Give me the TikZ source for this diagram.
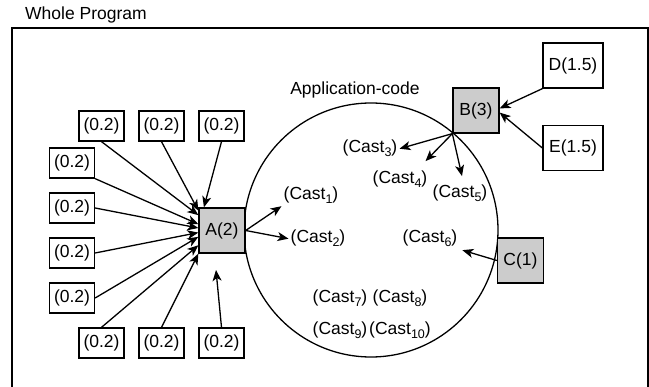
\documentclass[tikz,border=0pt]{standalone}
\usepackage{fontspec}
\setmainfont{Liberation Sans}
\usetikzlibrary{arrows.meta,calc}
\definecolor{boxgray}{HTML}{CCCCCC}
\newcommand{\castsub}[1]{\raisebox{-4pt}{\fontsize{12.5}{13}\selectfont #1}}
\begin{document}
\begin{tikzpicture}[x=1pt,y=-1pt,
  font=\fontsize{17.5}{20}\selectfont,
  every node/.style={inner sep=0pt},
  wbox/.style={draw, line width=1.3pt, minimum width=45pt, minimum height=30pt, fill=white},
  gbox/.style={draw, line width=1.3pt, fill=boxgray, minimum width=46pt, minimum height=45pt},
  lbox/.style={draw, line width=1.3pt, fill=white, minimum width=60pt, minimum height=45pt},
  cast/.style={inner sep=2pt, anchor=base},
  arr/.style={-{Stealth[length=11pt,width=9pt,inset=3pt]}, line width=1.3pt}]
\useasboundingbox (0,0) rectangle (649,387);
% frame
\draw[line width=1.3pt] (12,400) -- (12,28) -- (648,28) -- (648,400);
\node[anchor=base west] (title) at (25,20) {Whole Program};
% circle
\draw[line width=1.3pt] (371,230) circle[radius=127];
\node[anchor=base] (app) at (355,95) {Application-code};
% gray boxes
\node[gbox] (A) at (222,230.5) {A(2)};
\node[gbox] (B) at (476,110.5) {B(3)};
\node[gbox] (C) at (520.5,260.5) {C(1)};
\node[lbox] (D) at (573,65.5) {D(1.5)};
\node[lbox] (E) at (573,148) {E(1.5)};
% small boxes
\node[wbox] (t1) at (101.5,126) {(0.2)};
\node[wbox] (t2) at (161.5,126) {(0.2)};
\node[wbox] (t3) at (221.5,126) {(0.2)};
\node[wbox] (l1) at (72,163) {(0.2)};
\node[wbox] (l2) at (72,208) {(0.2)};
\node[wbox] (l3) at (72,253) {(0.2)};
\node[wbox] (l4) at (72,298) {(0.2)};
\node[wbox] (b1) at (101.5,343) {(0.2)};
\node[wbox] (b2) at (161.5,343) {(0.2)};
\node[wbox] (b3) at (221.5,343) {(0.2)};
% casts
\node[cast] (c1) at (311,200) {(Cast\castsub{1})};
\node[cast] (c2) at (318,243) {(Cast\castsub{2})};
\node[cast] (c3) at (370,153) {(Cast\castsub{3})};
\node[cast] (c4) at (400,184) {(Cast\castsub{4})};
\node[cast] (c5) at (460,198) {(Cast\castsub{5})};
\node[cast] (c6) at (430,243) {(Cast\castsub{6})};
\node[cast] (c7) at (340,303) {(Cast\castsub{7})};
\node[cast] (c8) at (400,303) {(Cast\castsub{8})};
\node[cast] (c9) at (340,335) {(Cast\castsub{9})};
\node[cast] (c10) at (400,335) {(Cast\castsub{10})};
% arrows into A
\draw[arr] (t1.south) -- (A.147);
\draw[arr] (t2.south) -- (A.140);
\draw[arr] (t3.south) -- (A.128);
\draw[arr] (l1.south east) -- (A.165);
\draw[arr] (l2.east) -- (A.174);
\draw[arr] (l3.east) -- (A.185);
\draw[arr] (l4.east) -- (A.195);
\draw[arr] (b1.north) -- (A.212);
\draw[arr] (b2.north) -- (A.south west);
\coordinate (a9) at (216,270);
\draw[arr] (b3.north) -- (a9);
% arrows out of A
\draw[arr] (A.east) -- (c1.south west);
\draw[arr] (A.east) -- (c2.west);
% B
\draw[arr] (B.south west) -- (c3.east);
\draw[arr] (B.south west) -- ($(c4.north east)+(-4,-8)$);
\draw[arr] (B.south west) -- ($(c5.north)+(2,-7)$);
\draw[arr] (D.south west) -- (B.5);
\draw[arr] (E.west) -- (B.-5);
% C
\draw[arr, shorten >=3pt] (C.west) -- (c6.south east);
\end{tikzpicture}
\end{document}
